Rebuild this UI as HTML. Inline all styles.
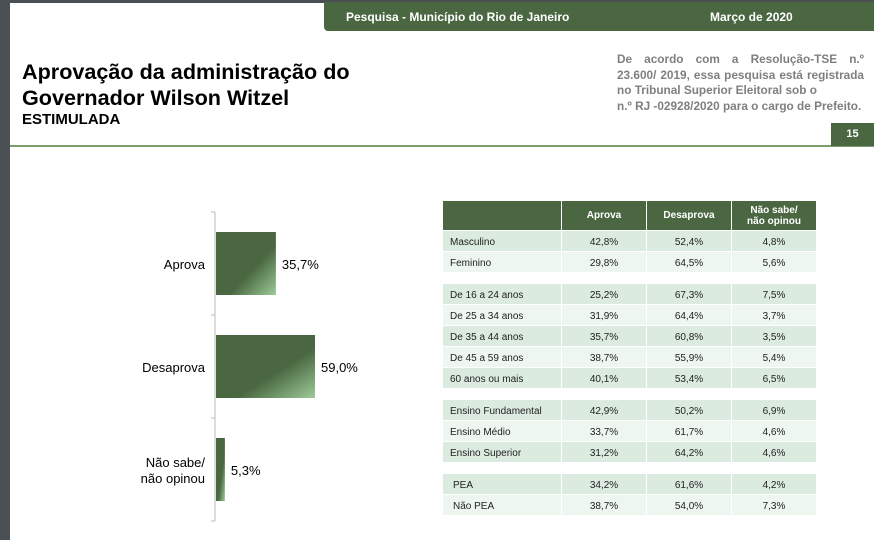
<!DOCTYPE html>
<html><head><meta charset="utf-8"><style>
*{margin:0;padding:0;box-sizing:border-box}
body{width:874px;height:540px;position:relative;background:#fff;font-family:"Liberation Sans",sans-serif;overflow:hidden}
.abs{position:absolute}
.cell{position:absolute;height:20px;line-height:20px;font-size:10px;color:#222;text-align:center}
.ln{white-space:nowrap;height:15.5px;overflow:visible}
.jl{text-align:justify;text-align-last:justify}
</style></head><body>
<div class="abs" style="left:0;top:0;width:10px;height:540px;background:#4b5055"></div>
<div class="abs" style="left:0;top:0;width:874px;height:3px;background:#4b5055"></div>
<div class="abs" style="left:324px;top:2px;width:550px;height:29px;background:#4a6741;border-bottom-left-radius:4px;color:#fff;font-weight:bold;font-size:12px">
<span class="abs" style="left:22px;top:8px">Pesquisa - Município do Rio de Janeiro</span>
<span class="abs" style="left:386px;top:8px">Março de 2020</span>
</div>
<div class="abs" style="left:22px;top:59px;font-size:21.6px;font-weight:bold;line-height:26px;color:#000">Aprovação da administração do<br>Governador Wilson Witzel</div>
<div class="abs" style="left:22px;top:111px;font-size:15px;font-weight:bold;color:#000">ESTIMULADA</div>
<div class="abs" style="left:617px;top:52px;width:247px;font-size:11.8px;font-weight:bold;color:#7f7f7f;line-height:15.5px">
<div class="ln jl">De acordo com a Resolução-TSE n.º</div>
<div class="ln jl">23.600/ 2019, essa pesquisa está registrada</div>
<div class="ln">no Tribunal Superior Eleitoral sob o</div>
<div class="ln">n.º RJ -02928/2020 para o cargo de Prefeito.</div>
</div>
<div class="abs" style="left:10px;top:145px;width:864px;height:2px;background:#7d9b6c"></div>
<div class="abs" style="left:831px;top:123px;width:43px;height:23px;background:#4a6741;color:#fff;font-size:11px;font-weight:bold;text-align:center;line-height:23px">15</div>

<svg class="abs" style="left:0;top:0" width="874" height="540">
<defs><linearGradient id="g" x1="0" y1="0" x2="1" y2="1">
<stop offset="0" stop-color="#4a6741"/><stop offset="0.6" stop-color="#4a6741"/><stop offset="1" stop-color="#9ccb98"/></linearGradient></defs>
<g id="chart"></g>
</svg>
<script>
const categories=["Aprova","Desaprova","Não sabe/|não opinou"];
const values=[35.7,59.0,5.3];
const valueLabels=["35,7%","59,0%","5,3%"];
const g=document.getElementById('chart');
const ns='http://www.w3.org/2000/svg';
const x0=216,scale=99/59.0,top0=212,band=103;
function xs(v){return x0+v*scale;}
function yb(i){return top0+i*band;}
const axis=document.createElementNS(ns,'path');
let d='M215,'+top0+' L215,'+(top0+3*band);
for(let i=0;i<=3;i++)d+=' M211,'+yb(i)+' L215,'+yb(i);
axis.setAttribute('d',d);axis.setAttribute('stroke','#bbb');axis.setAttribute('fill','none');


g.appendChild(axis);
values.forEach((v,i)=>{
 const r=document.createElementNS(ns,'rect');
 const y=yb(i)+20;
 r.setAttribute('x',x0);r.setAttribute('y',y);r.setAttribute('width',xs(v)-x0);r.setAttribute('height',63);
 r.setAttribute('fill','url(#g)');
 
 
 g.appendChild(r);
 const t=document.createElementNS(ns,'text');
 t.setAttribute('x',xs(v)+6);t.setAttribute('y',y+37);t.setAttribute('font-size','13');t.setAttribute('fill','#000');
 t.textContent=valueLabels[i];
 
 
 g.appendChild(t);
 const parts=categories[i].split('|');
 parts.forEach((p,j)=>{
  const c=document.createElementNS(ns,'text');
  c.setAttribute('x',205);c.setAttribute('text-anchor','end');c.setAttribute('font-size','13');c.setAttribute('fill','#000');
  c.setAttribute('y',y+37-(parts.length-1)*8+j*16);
  c.textContent=p;
  
  
  g.appendChild(c);
 });
});
</script>

<div id="tbl">
<div class="abs" style="left:443px;top:201px;width:373px;height:29px;background:#4a6741"></div>
<div class="abs" style="left:561px;top:201px;width:85px;height:29px;line-height:29px;text-align:center;color:#fff;font-size:10px;font-weight:bold;border-left:1px solid #fff">Aprova</div>
<div class="abs" style="left:646px;top:201px;width:85px;height:29px;line-height:29px;text-align:center;color:#fff;font-size:10px;font-weight:bold;border-left:1px solid #fff">Desaprova</div>
<div class="abs" style="left:731px;top:201px;width:85px;height:29px;padding-top:4px;line-height:11px;text-align:center;color:#fff;font-size:10px;font-weight:bold;border-left:1px solid #fff">Não sabe/<br>não opinou</div>
</div>
<script>
const rowLabels=["Masculino","Feminino","De 16 a 24 anos","De 25 a 34 anos","De 35 a 44 anos","De 45 a 59 anos","60 anos ou mais","Ensino Fundamental","Ensino Médio","Ensino Superior","PEA","Não PEA"];
const rowAprova=["42,8%","29,8%","25,2%","31,9%","35,7%","38,7%","40,1%","42,9%","33,7%","31,2%","34,2%","38,7%"];
const rowDesaprova=["52,4%","64,5%","67,3%","64,4%","60,8%","55,9%","53,4%","50,2%","61,7%","64,2%","61,6%","54,0%"];
const rowNaoSabe=["4,8%","5,6%","7,5%","3,7%","3,5%","5,4%","6,5%","6,9%","4,6%","4,6%","4,2%","7,3%"];
const rowGroup=[0,0,1,1,1,1,1,2,2,2,3,3];
(function(){
 const tbl=document.getElementById('tbl');
 const lefts=[443,562,647,732],widths=[118,84,84,84];
 let y=231,prevG=0,idx=0;
 rowLabels.forEach((lab,i)=>{
  if(rowGroup[i]!==prevG){y+=11;prevG=rowGroup[i];idx=0;}
  const bg=idx%2===0?'#dcebe0':'#eef6f0';
  const vals=[lab,rowAprova[i],rowDesaprova[i],rowNaoSabe[i]];
  vals.forEach((v,k)=>{
   const c=document.createElement('div');
   c.className='cell';
   c.style.left=lefts[k]+'px';c.style.top=y+'px';c.style.width=widths[k]+'px';c.style.background=bg;
   c.style.lineHeight='24px';
   if(k===0){c.style.textAlign='left';c.style.paddingLeft=(rowGroup[i]===3?'10px':'7px');}
   c.textContent=v;
   
   
   tbl.appendChild(c);
  });
  y+=21;idx++;
 });
})();
</script>
</body></html>
